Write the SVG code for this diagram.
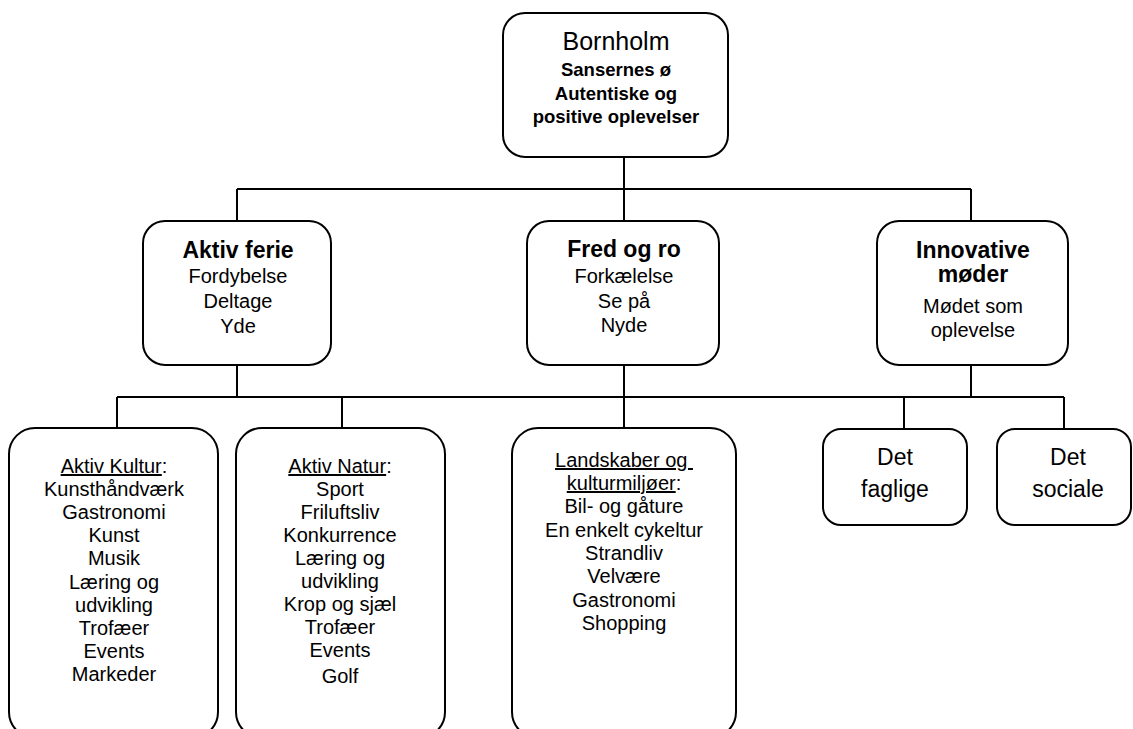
<svg xmlns="http://www.w3.org/2000/svg" width="1133" height="729" viewBox="0 0 1133 729">
<style>
.box{fill:#fff;stroke:#000;stroke-width:2}
.ln{fill:none;stroke:#000;stroke-width:2}
text{font-family:"Liberation Sans",Arial,sans-serif;fill:#000;text-anchor:middle}
.h1{font-size:25px}
.b1{font-size:18.5px;font-weight:bold}
.h2{font-size:23px;font-weight:bold}
.t{font-size:20px}
.t3{font-size:23px}
.u{text-decoration:underline}
</style>
<rect width="1133" height="729" fill="#fff"/>
<g id="connectors" class="ln">
<path d="M624 157V189M237 189H971M237 189V221M624 189V221M971 189V221"/>
<path d="M237 365V397M624 365V428M971 365V397M117 397H1064M117 397V428M342 397V428M904 397V428M1064 397V428"/>
</g>
<g id="bornholm">
<rect class="box" x="503" y="13" width="225" height="144" rx="22"/>
<text class="h1" x="616" y="50">Bornholm</text>
<text class="b1" x="616" y="76">Sansernes ø</text>
<text class="b1" x="616" y="100">Autentiske og</text>
<text class="b1" x="616" y="123">positive oplevelser</text>
</g>
<g id="aktiv-ferie">
<rect class="box" x="143" y="221" width="188" height="144" rx="22"/>
<text class="h2" x="238" y="258">Aktiv ferie</text>
<text class="t" x="238" y="283">Fordybelse</text>
<text class="t" x="238" y="308">Deltage</text>
<text class="t" x="238" y="333">Yde</text>
</g>
<g id="fred-og-ro">
<rect class="box" x="527" y="221" width="192" height="144" rx="22"/>
<text class="h2" x="624" y="257">Fred og ro</text>
<text class="t" x="624" y="283">Forkælelse</text>
<text class="t" x="624" y="308">Se på</text>
<text class="t" x="624" y="332">Nyde</text>
</g>
<g id="innovative-moeder">
<rect class="box" x="877" y="221" width="191" height="144" rx="22"/>
<text class="h2" x="973" y="258">Innovative</text>
<text class="h2" x="973" y="282">møder</text>
<text class="t" x="973" y="313">Mødet som</text>
<text class="t" x="973" y="337">oplevelse</text>
</g>
<g id="aktiv-kultur">
<rect class="box" x="9" y="428" width="209" height="310" rx="26"/>
<text class="t" x="114" y="473"><tspan class="u">Aktiv Kultur</tspan>:</text>
<text class="t" x="114" y="496">Kunsthåndværk</text>
<text class="t" x="114" y="519">Gastronomi</text>
<text class="t" x="114" y="542">Kunst</text>
<text class="t" x="114" y="565">Musik</text>
<text class="t" x="114" y="589">Læring og</text>
<text class="t" x="114" y="612">udvikling</text>
<text class="t" x="114" y="635">Trofæer</text>
<text class="t" x="114" y="658">Events</text>
<text class="t" x="114" y="681">Markeder</text>
</g>
<g id="aktiv-natur">
<rect class="box" x="236" y="428" width="209" height="310" rx="26"/>
<text class="t" x="340" y="473"><tspan class="u">Aktiv Natur</tspan>:</text>
<text class="t" x="340" y="496">Sport</text>
<text class="t" x="340" y="519">Friluftsliv</text>
<text class="t" x="340" y="542">Konkurrence</text>
<text class="t" x="340" y="565">Læring og</text>
<text class="t" x="340" y="588">udvikling</text>
<text class="t" x="340" y="611">Krop og sjæl</text>
<text class="t" x="340" y="634">Trofæer</text>
<text class="t" x="340" y="657">Events</text>
<text class="t" x="340" y="683">Golf</text>
</g>
<g id="landskaber">
<rect class="box" x="512" y="428" width="224" height="310" rx="26"/>
<text class="t u" x="624" y="467" style="white-space:pre">Landskaber og </text>
<text class="t" x="624" y="490"><tspan class="u">kulturmiljøer</tspan>:</text>
<text class="t" x="624" y="513">Bil- og gåture</text>
<text class="t" x="624" y="537">En enkelt cykeltur</text>
<text class="t" x="624" y="560">Strandliv</text>
<text class="t" x="624" y="583">Velvære</text>
<text class="t" x="624" y="607">Gastronomi</text>
<text class="t" x="624" y="630">Shopping</text>
</g>
<g id="det-faglige">
<rect class="box" x="823" y="429" width="144" height="96" rx="18"/>
<text class="t3" x="895" y="465">Det</text>
<text class="t3" x="895" y="497">faglige</text>
</g>
<g id="det-sociale">
<rect class="box" x="997" y="429" width="134" height="96" rx="18"/>
<text class="t3" x="1068" y="465">Det</text>
<text class="t3" x="1068" y="497">sociale</text>
</g>
</svg>
